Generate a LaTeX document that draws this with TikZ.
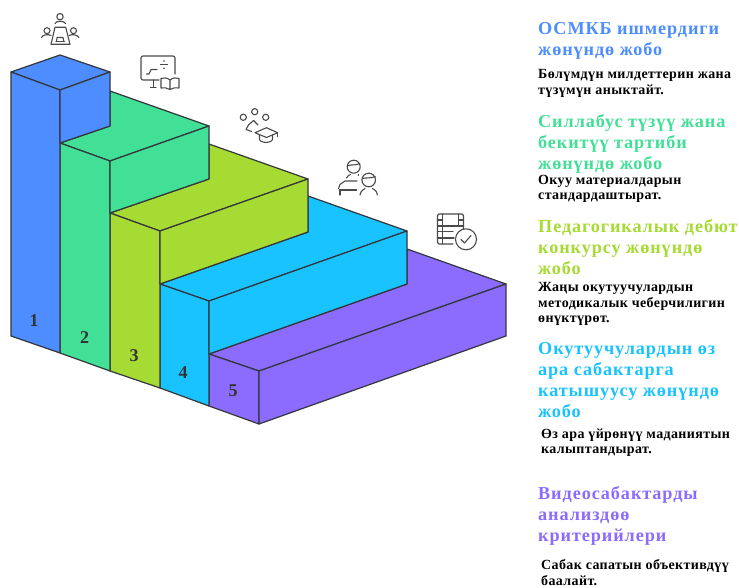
\documentclass[tikz,border=0pt]{standalone}
\usepackage{fontspec}
\setmainfont{Liberation Serif}
\newfontfamily\headfont[LetterSpace=5.0]{Liberation Serif}
\newfontfamily\subfont[LetterSpace=2.7]{Liberation Serif}
\definecolor{cblue}{HTML}{4D8DFF}
\definecolor{cgreen}{HTML}{42DF96}
\definecolor{clime}{HTML}{A6DB33}
\definecolor{ccyan}{HTML}{19C3FF}
\definecolor{cpurple}{HTML}{8C6BFF}
\definecolor{edgec}{HTML}{33363B}
\definecolor{iconc}{HTML}{4A4A4A}
\tikzset{
  x=1pt,y=-1pt,
  face/.style={draw=edgec,line width=1.2pt,line join=round},
  stepnum/.style={font=\bfseries\fontsize{18}{18}\selectfont,text=black!80,inner sep=0pt},
  head/.style={anchor=north west,inner sep=0pt,align=left,font=\headfont\bfseries\fontsize{18.2}{21}\selectfont},
  sub/.style={anchor=north west,inner sep=0pt,align=left,text=black,font=\subfont\bfseries\fontsize{14}{15.5}\selectfont},
  icon/.style={draw=iconc,line width=1.1pt,line cap=round,line join=round},
}
\begin{document}
\begin{tikzpicture}
\useasboundingbox (0,0) rectangle (739,588);
% step 5
\path[face,fill=cpurple] (407,249)--(506,284)--(259,371)--(209,354)--(407,284)--cycle;
\path[face,fill=cpurple] (209,354)--(259,371)--(259,424)--(209,406)--cycle;
\path[face,fill=cpurple] (259,371)--(506,284)--(506,336)--(259,424)--cycle;
% step 4
\path[face,fill=ccyan] (308,196)--(407,231)--(209,301)--(160,284)--(308,232)--cycle;
\path[face,fill=ccyan] (160,284)--(209,301)--(209,406)--(160,388)--cycle;
\path[face,fill=ccyan] (209,301)--(407,231)--(407,284)--(209,354)--cycle;
% step 3
\path[face,fill=clime] (209,144)--(308,179)--(160,231)--(110,213)--(209,179)--cycle;
\path[face,fill=clime] (110,213)--(160,231)--(160,388)--(110,371)--cycle;
\path[face,fill=clime] (160,231)--(308,179)--(308,232)--(160,284)--cycle;
% step 2
\path[face,fill=cgreen] (110,91)--(209,126)--(110,161)--(60,143)--(110,126)--cycle;
\path[face,fill=cgreen] (60,143)--(110,161)--(110,371)--(60,353)--cycle;
\path[face,fill=cgreen] (110,161)--(209,126)--(209,179)--(110,213)--cycle;
% step 1
\path[face,fill=cblue] (11,72)--(60,55)--(110,72)--(60,90)--cycle;
\path[face,fill=cblue] (11,72)--(60,90)--(60,353)--(11,336)--cycle;
\path[face,fill=cblue] (60,90)--(110,72)--(110,126)--(60,143)--cycle;
% numbers
\node[stepnum] (n1) at (34,320.5) {1};
\node[stepnum] (n2) at (84.5,338) {2};
\node[stepnum] (n3) at (134,355.5) {3};
\node[stepnum] (n4) at (183,373) {4};
\node[stepnum] (n5) at (233,390.5) {5};
% icon 1
\draw[icon] (60,16.7) circle (3.2);
\draw[icon] (55,23.5) .. controls (56,20.5) and (64,20.5) .. (65.5,23.5);
\draw[icon] (47,30.7) circle (3);
\draw[icon] (41.5,37.5) .. controls (43,34.5) and (48,34) .. (51,35.5);
\draw[icon] (73.5,30.7) circle (3);
\draw[icon] (69,35.5) .. controls (72,34) and (77,34.5) .. (79,37.5);
\draw[icon] (55,27.3)--(65.7,27.3)--(70,44.3)--(51,44.3)--cycle;
\draw[icon] (56,41.5)--(64.5,41.5);
\draw[icon] (56.5,41.5)--(57,37.5)--(63,37.5)--(63.8,41.5);
% icon 2
\draw[icon,rounded corners=2pt] (159,80)--(141,80)--(141,56)--(175,56)--(175,74);
\draw[icon] (153.5,80)--(153.5,87);
\draw[icon] (150.5,87.3)--(156,87.3);
\draw[icon] (146.5,74)--(149,74)--(151,69.5)--(157,69.5);
\draw[icon] (160.5,64.7)--(167.5,64.7);
\fill[iconc] (164,61) circle (0.9) (164,68.3) circle (0.9);
\draw[icon] (170,80)--(170,89.5)
  (170,80) .. controls (167,77.5) and (164,77.5) .. (161,78.5) -- (161,88) .. controls (164,87.5) and (167,87.5) .. (170,89.5)
  (170,80) .. controls (173,77.5) and (176,77.5) .. (179,78.5) -- (179,88) .. controls (176,87.5) and (173,87.5) .. (170,89.5);
% icon 3
\draw[icon] (243.3,117.3) circle (3.1);
\draw[icon] (254.7,111.7) circle (3.1);
\draw[icon] (265.7,117.3) circle (3.1);
\draw[icon] (248.5,125)--(253.5,120.5)--(258,125);
\draw[icon] (248.5,125)--(246,129.5)--(251.5,131.5);
\draw[icon] (255,132.7)--(266.5,127.7)--(277.7,132.7)--(266.5,137.5)--cycle;
\draw[icon] (259.5,135)--(259.5,139) .. controls (259.5,143.5) and (272.5,143.5) .. (272.5,139)--(272.5,135);
\draw[icon] (277.7,132.7)--(277.7,136.5);
% icon 4
\draw[icon] (353.7,166.7) circle (6.5);
\draw[icon] (348,165.5) .. controls (352,164.5) and (356,165.5) .. (359.8,163.5);
\draw[icon] (346.5,178) .. controls (347.5,175.5) and (349.5,175) .. (350.5,174.5);
\draw[icon] (358.3,174.5)--(358.3,175.5);
\draw[icon] (338.5,188.5)--(340,184.5)--(345,181)--(357,181);
\draw[icon] (339.5,190)--(356.5,190);
\draw[icon] (340,190)--(340,195);
\draw[icon] (368.7,180) circle (6.8);
\draw[icon] (362.5,178.5) .. controls (366,177.5) and (371,178.5) .. (375.2,176.5);
\draw[icon] (360,195) .. controls (360.5,191) and (363.5,189.5) .. (365,188.5);
\draw[icon] (372.5,188.5) .. controls (374.5,189.5) and (377,191) .. (377.3,195);
% icon 5
\draw[icon,rounded corners=1.5pt] (453,244)--(437.5,244)--(437.5,214)--(463.5,214)--(463.5,229);
\draw[icon] (442.7,214)--(442.7,244);
\draw[icon] (458.5,214)--(458.5,226);
\draw[icon] (437.5,226)--(463.5,226);
\draw[icon] (437.5,231.7)--(453,231.7);
\draw[icon] (442.7,238)--(454,238);
\draw[icon] (437.5,220)--(442.7,220) (458.5,220)--(463.5,220) (437.5,238)--(442.7,238);
\draw[icon] (466,239.3) circle (10.5);
\draw[icon] (461,239.5)--(464.5,243)--(471,235.5);
% text
\node[head,text=cblue] (h1) at (538,22) {ОСМКБ ишмердиги\\жөнүндө жобо};
\node[sub] (s1) at (538,69.5) {Бөлүмдүн милдеттерин жана\\түзүмүн аныктайт.};
\node[head,text=cgreen] (h2) at (538,114) {Силлабус түзүү жана\\бекитүү тартиби\\жөнүндө жобо};
\node[sub] (s2) at (538,175) {Окуу материалдарын\\стандардаштырат.};
\node[head,text=clime] (h3) at (538,219) {Педагогикалык дебют\\конкурсу жөнүндө\\жобо};
\node[sub] (s3) at (538,282.5) {Жаңы окутуучулардын\\методикалык чеберчилигин\\өнүктүрөт.};
\node[head,text=ccyan] (h4) at (538,342) {Окутуучулардын өз\\ара сабактарга\\катышуусу жөнүндө\\жобо};
\node[sub] (s4) at (541,428.5) {Өз ара үйрөнүү маданиятын\\калыптандырат.};
\node[head,text=cpurple] (h5) at (538,486) {Видеосабактарды\\анализдөө\\критерийлери};
\node[sub] (s5) at (541,559.5) {Сабак сапатын объективдүү\\баалайт.};
\end{tikzpicture}
\end{document}
